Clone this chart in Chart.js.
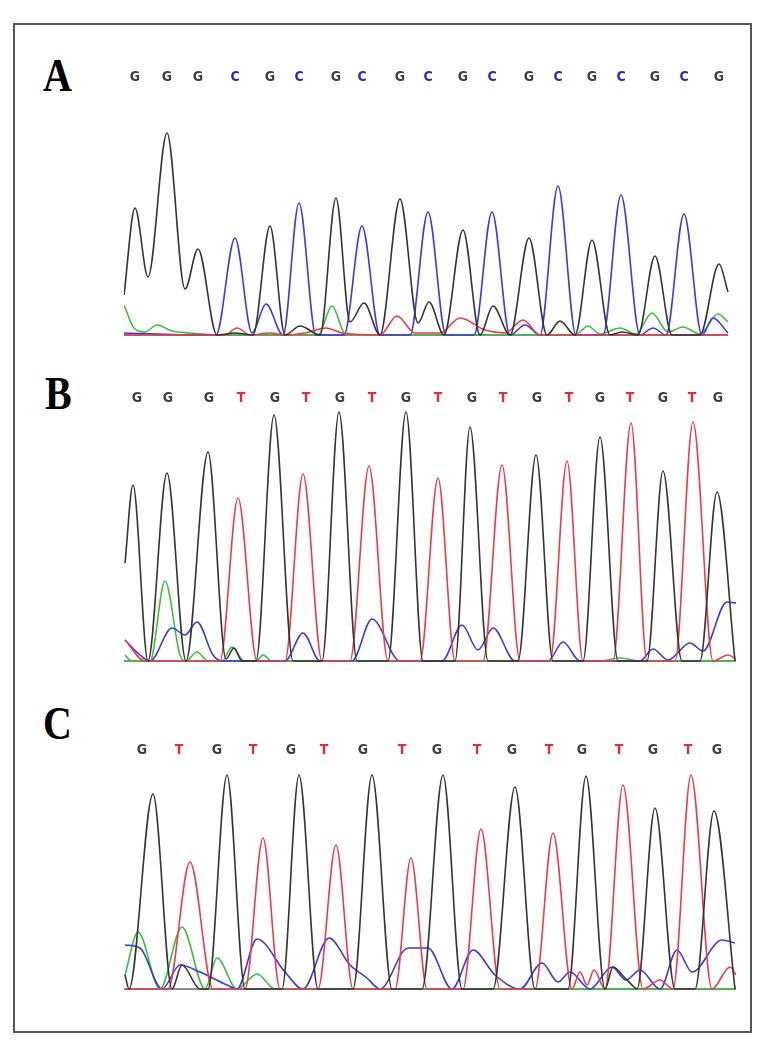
<!DOCTYPE html>
<html>
<head>
<meta charset="utf-8">
<script src="https://cdn.jsdelivr.net/npm/chart.js@4.4.1/dist/chart.umd.min.js"></script>
<style>
  body { margin: 0; background: #fff; width: 765px; height: 1050px; position: relative; overflow: hidden; }
  .frame { position: absolute; left: 13px; top: 23px; width: 739px; height: 1010px; border: 2px solid #555; box-sizing: border-box; }
  .lbl { position: absolute; font-family: "Liberation Serif", "Times New Roman", serif; font-weight: bold; font-size: 47px; line-height: 46px; color: #000; transform: scaleX(0.85); transform-origin: left top; }
  canvas { position: absolute; }
</style>
</head>
<body>
<div class="frame"></div>
<div class="lbl" style="left:43px;top:52px">A</div>
<div class="lbl" style="left:45px;top:370px">B</div>
<div class="lbl" style="left:43px;top:700px">C</div>
<canvas id="chartA" width="612" height="274" style="left:124px;top:64px"></canvas>
<canvas id="chartB" width="612" height="279" style="left:124px;top:385px"></canvas>
<canvas id="chartC" width="612" height="255" style="left:124px;top:737px"></canvas>
<script>
// base calls (top row) and where they sit on the scan axis
const aBases = ['G','G','G','C','G','C','G','C','G','C','G','C','G','C','G','C','G','C','G'];
const aBasePos = [11,43,74,111,146,175,212,238,276,304,339,368,405,434,468,497,531,560,595];
const bBases = ['G','G','G','T','G','T','G','T','G','T','G','T','G','T','G','T','G','T','G'];
const bBasePos = [13,44,85,117,151,182,216,248,282,314,348,379,413,445,476,506,539,568,594];
const cBases = ['G','T','G','T','G','T','G','T','G','T','G','T','G','T','G','T','G'];
const cBasePos = [18,55,93,129,167,200,239,278,313,353,388,425,458,495,529,564,593];

// trace A : [scan, signal]
const aG = [[0,40],[11,127],[24,58],[43,202],[61,46],[74,86],[93,0],[111,2],[129,0],[146,109],[161,0],[176,9],[196,0],[212,137],[226,13],[240,32],[256,0],[276,136],[294,12],[305,33],[320,0],[339,105],[356,0],[369,29],[386,0],[405,97],[423,0],[436,14],[451,0],[468,95],[486,0],[498,3],[514,0],[531,79],[548,0],[576,0],[595,71],[604,43]];
const aC = [[0,2],[76,0],[92,0],[111,97],[128,2],[142,31],[159,0],[175,132],[192,0],[220,0],[238,109],[256,0],[286,0],[304,123],[322,0],[350,0],[368,123],[386,0],[401,10],[416,0],[434,149],[452,0],[479,0],[497,140],[516,0],[529,7],[542,0],[560,121],[578,0],[589,17],[604,2]];
const aA = [[0,30],[10,7],[21,3],[33,10],[48,4],[66,2],[91,0],[194,0],[208,29],[222,0],[451,0],[464,9],[476,1],[496,7],[512,1],[528,22],[544,3],[559,8],[576,1],[594,21],[604,13]];
const aT = [[0,0],[101,0],[113,7],[126,0],[146,2],[161,0],[181,2],[202,7],[218,2],[256,0],[273,19],[291,2],[316,2],[336,17],[361,5],[381,2],[399,15],[416,0],[604,0]];

// trace B
const bG = [[1,98],[9,176],[24,0],[43,188],[62,0],[84,209],[102,2],[110,13],[118,0],[132,0],[150,246],[169,0],[198,0],[215,249],[233,0],[264,0],[282,249],[299,0],[331,0],[346,234],[364,0],[394,0],[412,206],[429,0],[459,0],[476,224],[494,0],[523,0],[539,190],[558,0],[576,0],[593,169],[611,0]];
const bT = [[1,21],[21,0],[96,0],[114,163],[133,0],[161,0],[179,187],[198,0],[226,0],[245,195],[264,0],[296,0],[314,183],[331,0],[359,0],[378,196],[396,0],[426,0],[443,200],[459,0],[489,0],[507,238],[523,0],[551,0],[569,239],[589,0],[604,6],[612,2]];
const bC = [[1,21],[16,6],[26,0],[48,33],[61,26],[73,39],[89,6],[98,0],[161,0],[179,28],[196,0],[228,0],[248,42],[276,0],[318,0],[338,36],[354,11],[369,33],[391,0],[424,0],[439,19],[456,0],[516,0],[529,12],[544,1],[566,18],[579,10],[603,59],[612,58]];
const bA = [[1,6],[8,0],[26,0],[41,80],[56,6],[62,0],[73,9],[84,0],[98,0],[108,14],[120,0],[132,0],[139,6],[148,0],[476,0],[496,3],[516,0],[612,0]];

// trace C
const cG = [[1,14],[5,0],[29,195],[48,0],[58,24],[76,0],[84,0],[103,214],[121,0],[158,0],[175,214],[194,0],[229,0],[248,214],[268,0],[298,0],[319,214],[338,0],[369,0],[391,202],[411,0],[444,0],[462,213],[481,0],[489,22],[501,11],[509,3],[513,0],[531,181],[551,0],[571,0],[590,178],[611,0]];
const cT = [[1,0],[44,0],[66,127],[89,0],[121,0],[139,151],[156,0],[194,0],[212,144],[229,0],[271,0],[287,131],[303,0],[339,0],[357,160],[376,0],[411,0],[429,156],[448,0],[456,17],[463,4],[470,19],[481,0],[499,204],[519,0],[536,9],[549,0],[567,214],[588,0],[606,22],[612,14]];
const cC = [[1,44],[16,41],[38,0],[56,24],[76,17],[103,4],[113,0],[133,50],[161,17],[179,0],[205,51],[226,24],[243,11],[256,0],[284,41],[304,41],[328,0],[349,39],[371,14],[396,0],[418,26],[434,7],[446,17],[466,0],[488,22],[502,9],[516,19],[536,0],[553,39],[568,17],[598,49],[611,46]];
const cA = [[1,14],[14,57],[36,0],[58,62],[81,0],[93,31],[113,0],[133,15],[151,0],[612,0]];

const dyeColor = { G: '#333333', C: '#3a3ae0', T: '#ec3b4e', A: '#3cc03c' };
const callColor = { G: '#404040', C: '#2a2acc', T: '#e8283c' };

function toXY(pairs) {
  return pairs.map(p => ({ x: p[0], y: p[1] }));
}

function trace(pairs, base, order) {
  return {
    data: toXY(pairs),
    borderColor: dyeColor[base],
    borderWidth: 1.6,
    pointRadius: 0,
    cubicInterpolationMode: 'monotone',
    fill: false,
    order: order
  };
}

function makePanel(id, bases, basePos, g, t, c, a, baseEnd, yMax) {
  const baseline = {
    data: [{ x: 0, y: 0 }, { x: baseEnd, y: 0 }],
    borderColor: '#8c8c8c', borderWidth: 2, pointRadius: 0, order: 5
  };
  new Chart(document.getElementById(id), {
    type: 'line',
    data: {
      datasets: [trace(g, 'G', 1), trace(t, 'T', 2), trace(c, 'C', 3), trace(a, 'A', 4), baseline]
    },
    options: {
      responsive: false,
      animation: false,
      layout: { padding: 0 },
      plugins: { legend: { display: false }, tooltip: { enabled: false } },
      scales: {
        x: { type: 'linear', min: 0, max: 612, display: false },
        calls: {
          type: 'linear', position: 'top', axis: 'x', min: 0, max: 612,
          grid: { display: false, drawTicks: false },
          border: { display: false },
          afterBuildTicks: (ax) => { ax.ticks = basePos.map(v => ({ value: v })); },
          afterFit: (ax) => { ax.height = 22; },
          ticks: {
            autoSkip: false, maxRotation: 0, padding: 0,
            font: { family: "'Liberation Sans Narrow', 'DejaVu Sans Condensed', sans-serif", size: 14, weight: 'bold' },
            color: (ctx) => callColor[bases[ctx.index]] || '#333',
            callback: (v, i) => bases[i]
          }
        },
        y: { min: -3, max: yMax, display: false }
      }
    }
  });
}

makePanel('chartA', aBases, aBasePos, aG, aT, aC, aA, 604, 249);
makePanel('chartB', bBases, bBasePos, bG, bT, bC, bA, 612, 254);
makePanel('chartC', cBases, cBasePos, cG, cT, cC, cA, 612, 230);
</script>
</body>
</html>
